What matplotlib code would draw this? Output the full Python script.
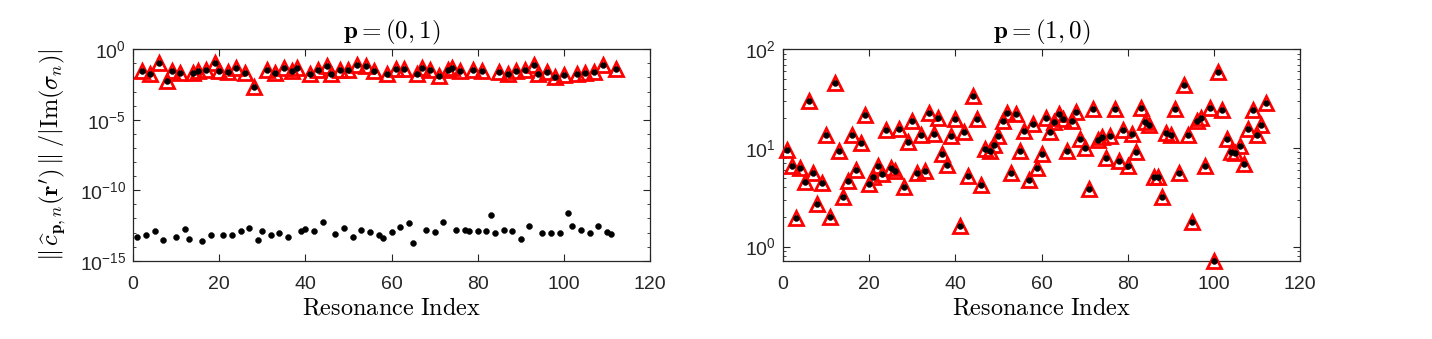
import numpy as np
import matplotlib
matplotlib.use("Agg")
import matplotlib.pyplot as plt
from matplotlib.ticker import LogLocator, NullFormatter

plt.rcParams['font.family'] = ['Liberation Sans', 'DejaVu Sans']
plt.rcParams['mathtext.fontset'] = 'custom'
plt.rcParams['mathtext.rm'] = 'Liberation Sans'
plt.rcParams['mathtext.it'] = 'Liberation Sans:italic'
plt.rcParams['mathtext.bf'] = 'Liberation Sans:bold'

# ---------------- data ----------------
# p = (0,1): resonances with non-negligible coupling (marked with triangles)
bright_idx = [2, 4, 6, 8, 9, 11, 14, 15, 17, 19, 20, 22, 24, 26, 28, 31, 33, 35, 37, 38,
              41, 43, 45, 46, 48, 50, 52, 54, 56, 59, 61, 63, 66, 67, 69, 71, 73, 74, 76, 79,
              81, 85, 87, 89, 91, 93, 94, 96, 98, 100, 103, 105, 107, 109, 112]
bright_val = [2.95e-2, 1.7e-2, 1.07e-1, 5.6e-3, 2.95e-2, 2.1e-2, 2.1e-2, 2.95e-2, 3.3e-2, 1.07e-1,
              2.8e-2, 2.4e-2, 4.7e-2, 2.1e-2, 2.1e-3, 3.6e-2, 2.0e-2, 5.0e-2, 2.8e-2, 5.0e-2,
              1.9e-2, 3.3e-2, 6.3e-2, 1.7e-2, 3.3e-2, 3.3e-2, 7.1e-2, 6.5e-2, 2.8e-2, 1.7e-2,
              4.1e-2, 4.1e-2, 1.7e-2, 4.7e-2, 3.6e-2, 1.23e-2, 3.6e-2, 4.4e-2, 2.95e-2, 3.3e-2,
              2.95e-2, 2.4e-2, 1.7e-2, 2.8e-2, 3.6e-2, 7.1e-2, 1.9e-2, 2.4e-2, 1.0e-2, 1.6e-2,
              1.7e-2, 2.2e-2, 2.4e-2, 7.1e-2, 4.1e-2]
# p = (0,1): resonances with numerically zero coupling
dark_idx = [1, 3, 5, 7, 10, 12, 13, 16, 18, 21, 23, 25, 27, 29, 30, 32, 34, 36, 39, 40,
            42, 44, 47, 49, 51, 53, 55, 57, 58, 60, 62, 64, 65, 68, 70, 72, 75, 77, 78, 80,
            82, 83, 84, 86, 88, 90, 92, 95, 97, 99, 101, 102, 104, 106, 108, 110, 111]
dark_val = [5.0e-14, 6.9e-14, 1.38e-13, 3.0e-14, 4.7e-14, 1.7e-13, 3.4e-14, 2.7e-14, 6.9e-14, 6.5e-14,
            6.2e-14, 1.38e-13, 2.1e-13, 3.0e-14, 1.3e-13, 6.9e-14, 9.5e-14, 5.2e-14, 1.38e-13, 1.8e-13,
            1.3e-13, 5.4e-13, 7.8e-14, 2.1e-13, 5.0e-14, 1.5e-13, 1.17e-13, 6.2e-14, 4.0e-14, 1.12e-13,
            2.5e-13, 4.9e-13, 1.86e-14, 1.55e-13, 1.12e-13, 6.0e-13, 1.62e-13, 1.62e-13, 1.3e-13, 1.3e-13,
            1.3e-13, 1.7e-12, 9.1e-14, 1.62e-13, 1.26e-13, 3.5e-14, 2.95e-13, 9.5e-14, 9.5e-14, 1.0e-13,
            2.45e-12, 2.8e-13, 1.55e-13, 9.5e-14, 2.7e-13, 1.17e-13, 8.5e-14]

# p = (1,0): all resonances
res_idx = list(range(1, 113))
res_val = [9.5, 6.5, 1.95, 6.2, 4.5, 30, 5.6, 2.7, 4.4, 13.6,
           2.0, 46, 9.4, 3.2, 4.6, 13.4, 6.0, 11.2, 21.8, 4.3,
           5.1, 6.6, 5.4, 15.2, 6.2, 5.9, 15.5, 4.0, 11.5, 18.9,
           5.6, 13.5, 5.8, 22.8, 13.8, 20.0, 8.7, 6.7, 13.2, 19.6,
           1.6, 14.6, 5.2, 33.8, 19.5, 4.2, 9.8, 9.3, 10.7, 13.3,
           18.9, 22.6, 5.6, 22.1, 9.4, 14.9, 4.7, 17.3, 6.3, 8.7,
           19.9, 14.6, 18.5, 22.1, 19.5, 9.4, 18.7, 23.2, 12.3, 10.0,
           3.8, 24.6, 12.0, 13.0, 7.9, 13.2, 24.8, 7.4, 15.2, 6.5,
           13.7, 9.2, 25.4, 18.3, 17.0, 5.1, 5.1, 3.2, 14.3, 13.5,
           25.1, 5.6, 43, 13.5, 1.78, 18.7, 20.3, 6.5, 25.6, 0.72,
           58.9, 24.3, 12.3, 9.1, 8.8, 10.5, 6.8, 15.6, 24.3, 13.5,
           17.0, 28.3]

titles = [r'$\mathbf{p}=(0,1)$', r'$\mathbf{p}=(1,0)$']
xlabel = r'$\mathrm{Resonance\ Index}$'
ylabel = r"$\|\,\widehat{c}_{\mathbf{p},n}(\mathbf{r}')\,\|\;/|\mathrm{Im}(\sigma_n)|$"

# merged black-dot series for p=(0,1)
all_idx = bright_idx + dark_idx
all_val = bright_val + dark_val

W, H = 1432, 339
fig = plt.figure(figsize=(W / 100, H / 100), dpi=100)
axL = fig.add_axes([133 / W, 1 - 260.7 / H, 517 / W, 211.4 / H])
axR = fig.add_axes([783 / W, 1 - 260.7 / H, 517 / W, 211.4 / H])

tri_kw = dict(linestyle='none', marker='^', markersize=9.5, markerfacecolor='none',
              markeredgecolor='red', markeredgewidth=2.0, clip_on=False, zorder=3)
dot_kw = dict(linestyle='none', marker='o', markersize=4.3, markerfacecolor='black',
              markeredgecolor='black', markeredgewidth=0.3, clip_on=False, zorder=4)

axL.plot(bright_idx, bright_val, **tri_kw)
axL.plot(all_idx, all_val, **dot_kw)
axR.plot(res_idx, res_val, **tri_kw)
axR.plot(res_idx, res_val, **dot_kw)

for ax in (axL, axR):
    ax.set_yscale('log')
    ax.set_xlim(0, 120)
    ax.set_xticks([0, 20, 40, 60, 80, 100, 120])
    ax.tick_params(which='both', direction='in', top=True, right=True,
                   labelsize=14, color='#262626', labelcolor='#262626')
    ax.tick_params(which='major', length=5, width=0.8)
    ax.tick_params(which='minor', length=2.5, width=0.6)
    ax.tick_params(axis='x', pad=11)
    ax.tick_params(axis='y', pad=5)
    for s in ax.spines.values():
        s.set_color('#262626')
        s.set_linewidth(0.9)
    ax.set_xlabel(xlabel, fontsize=17.5, math_fontfamily='cm', labelpad=3)

axL.set_ylim(1e-15, 1e0)
axL.set_yticks([1e-15, 1e-10, 1e-5, 1e0])
axL.yaxis.set_minor_locator(LogLocator(base=10, subs=(1.0,), numticks=30))
axL.yaxis.set_minor_formatter(NullFormatter())

axR.set_ylim(0.72, 100)
axR.set_yticks([1, 10, 100])
axR.yaxis.set_minor_locator(LogLocator(base=10, subs=np.arange(2, 10), numticks=30))
axR.yaxis.set_minor_formatter(NullFormatter())

axL.set_title(titles[0], fontsize=18, math_fontfamily='cm', pad=8)
axR.set_title(titles[1], fontsize=18, math_fontfamily='cm', pad=8)
axL.set_ylabel(ylabel, fontsize=17.5, math_fontfamily='cm', labelpad=8)

fig.savefig('out.png', dpi=100)
